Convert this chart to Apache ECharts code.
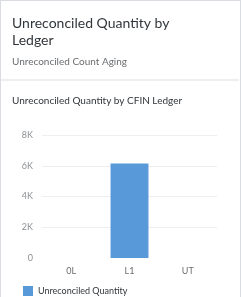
<!DOCTYPE html>
<html><head><meta charset="utf-8">
<script src="https://cdn.jsdelivr.net/npm/echarts@6/dist/echarts.min.js"></script>
<style>
html,body{margin:0;padding:0;background:#fff;}
#card{position:absolute;left:0;top:0;width:239px;height:300px;border:1px solid #d9dde2;border-bottom:none;background:#fff;}
#sep{position:absolute;left:1px;top:79px;width:238px;height:2px;background:#eeeeee;}
#chart{position:absolute;left:0;top:0;width:241px;height:297px;}
</style></head>
<body>
<div id="card"></div>
<div id="sep"></div>
<div id="chart"></div>
<script>
const headerTitle = 'Unreconciled Quantity by\nLedger';
const headerSubtitle = 'Unreconciled Count Aging';
const chartTitle = 'Unreconciled Quantity by CFIN Ledger';
const categories = ['0L', 'L1', 'UT'];
const seriesName = 'Unreconciled Quantity';
const values = [0, 6150, 0];
const yTicks = [0, 2000, 4000, 6000, 8000];
const yLabels = ['0', '2K', '4K', '6K', '8K'];

const chart = echarts.init(document.getElementById('chart'));
const font = 'Lato, "Noto Sans", sans-serif';
chart.setOption({
  animation: false,
  textStyle: {fontFamily: font},
  graphic: [
    {type: 'text', left: 12, top: 15, style: {text: headerTitle, fontSize: 14, lineHeight: 17, fill: '#32363a', fontFamily: font}},
    {type: 'text', left: 12, top: 57, style: {text: headerSubtitle, fontSize: 10, fill: '#6a6d70', fontFamily: font}},
    {type: 'text', left: 12, top: 96, style: {text: chartTitle, fontSize: 10, fill: '#32363a', fontFamily: font}}
  ],
  legend: {
    left: 23, top: 286, itemWidth: 10, itemHeight: 10, itemGap: 5, padding: 0,
    icon: 'rect',
    textStyle: {fontSize: 9, color: '#32363a', fontFamily: font},
    data: [seriesName]
  },
  grid: {left: 42, right: 24, top: 135, bottom: 39, containLabel: false},
  xAxis: {
    type: 'category', data: categories,
    axisLine: {show: false}, axisTick: {show: false},
    axisLabel: {fontSize: 9, color: '#6a6d70', margin: 9}
  },
  yAxis: {
    type: 'value', min: 0, max: 8000, interval: 2000,
    axisLine: {show: false}, axisTick: {show: false},
    axisLabel: {fontSize: 9, color: '#8c8f92', margin: 9,
      formatter: v => yLabels[yTicks.indexOf(v)]},
    splitLine: {show: true, showMinLine: false, lineStyle: {color: '#eeeeee', width: 1}}
  },
  series: [{
    name: seriesName, type: 'bar', data: values, barWidth: '65%',
    itemStyle: {color: '#5899da'}
  }]
});
</script>
</body></html>
